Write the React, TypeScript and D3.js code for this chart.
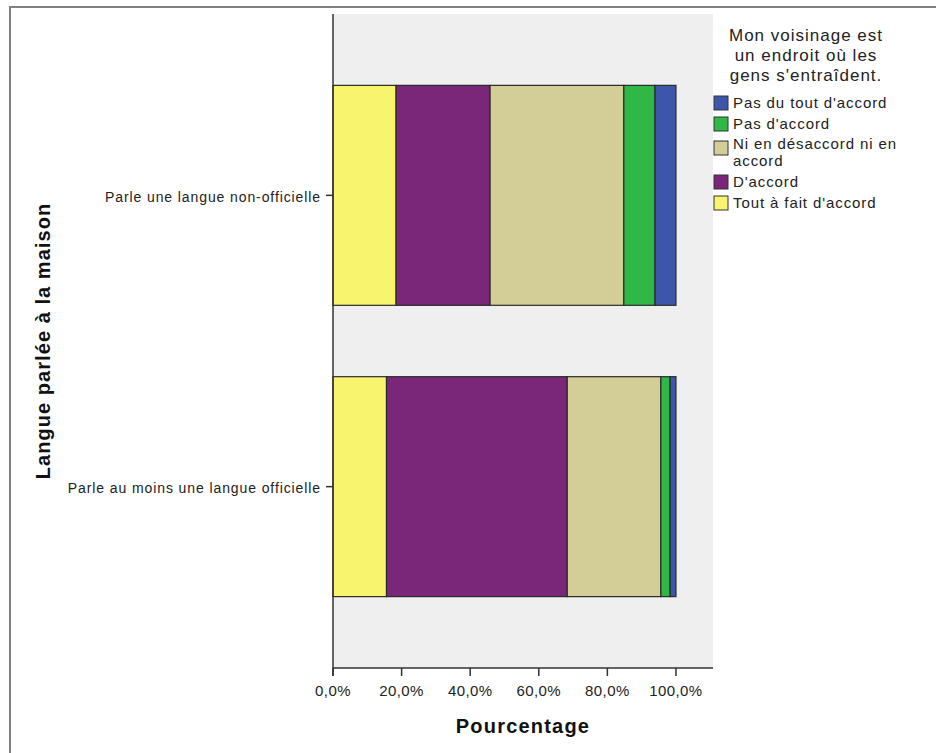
import React from "react";
import * as d3 from "d3";

const categories = ["Parle une langue non-officielle", "Parle au moins une langue officielle"];
const seriesKeys = ["Tout à fait d'accord", "D'accord", "Ni en désaccord ni en accord", "Pas d'accord", "Pas du tout d'accord"];
const toutAFait = [18.4, 15.6];
const dAccord = [27.4, 52.7];
const ni = [39.0, 27.3];
const pasDAccord = [9.1, 2.7];
const pasDuTout = [6.1, 1.7];
const seriesColors = ["#F9F46E", "#7B2779", "#D3CE97", "#2FB845", "#3D56AB"];
const xTicks = [0, 20, 40, 60, 80, 100];
const legendTitle = ["Mon voisinage est", "un endroit où les", "gens s'entraîdent."];
const legendOrder = [4, 3, 2, 1, 0];
const legendLabelLines: Record<number, string[]> = {
  4: ["Pas du tout d'accord"],
  3: ["Pas d'accord"],
  2: ["Ni en désaccord ni en", "accord"],
  1: ["D'accord"],
  0: ["Tout à fait d'accord"],
};

export default function App() {
  const W = 936, H = 753;
  const left = 333, right = 713, top = 14, bottom = 668;
  const x = d3.scaleLinear().domain([0, 110.8]).range([left, right]);
  const y = d3.scaleBand().domain(categories).range([top, bottom]).paddingInner(0.245).paddingOuter(0.245);
  const values = [toutAFait, dAccord, ni, pasDAccord, pasDuTout];
  const rows = categories.map((c, i) => {
    const o: any = { cat: c };
    seriesKeys.forEach((k, j) => (o[k] = values[j][i]));
    return o;
  });
  const stacked = d3.stack().keys(seriesKeys)(rows);
  const font = "'Liberation Sans', Arial, sans-serif";

  let ly = 96;
  const legendItems = legendOrder.map((si) => {
    const lines = legendLabelLines[si];
    const yy = ly;
    ly += lines.length > 1 ? 37 : 21;
    return { si, lines, yy };
  });

  return (
    <svg width={W} height={H} style={{ position: "absolute", left: 0, top: 0 }} fontFamily={font}>
      <rect x={0} y={0} width={W} height={H} fill="#fff" />
      <line x1={10} x2={10} y1={6} y2={H} stroke="#808080" strokeWidth={2} />
      <line x1={9} x2={W} y1={7} y2={7} stroke="#808080" strokeWidth={2} />
      <rect x={left} y={top} width={right - left} height={bottom - top} fill="#EFEFEF" />
      {stacked.map((s, j) =>
        s.map((d, i) => (
          <rect
            key={j + "-" + i}
            x={x(d[0])}
            y={y(categories[i])!}
            width={x(d[1]) - x(d[0])}
            height={y.bandwidth()}
            fill={seriesColors[j]}
            stroke="#2a2a2a"
            strokeWidth={1.2}
          />
        ))
      )}
      <line x1={left} x2={left} y1={top} y2={bottom + 8} stroke="#333" strokeWidth={1.5} />
      <line x1={left} x2={right} y1={bottom} y2={bottom} stroke="#333" strokeWidth={1.5} />
      {xTicks.map((t) => (
        <g key={t}>
          <line x1={x(t)} x2={x(t)} y1={bottom} y2={bottom + 8} stroke="#333" strokeWidth={1.5} />
          <text x={x(t)} y={bottom + 28} textAnchor="middle" fontSize={15} letterSpacing={0.4} fill="#222">
            {t.toFixed(1).replace(".", ",") + "%"}
          </text>
        </g>
      ))}
      {categories.map((c) => {
        const cy = y(c)! + y.bandwidth() / 2;
        return (
          <g key={c}>
            <line x1={left - 7} x2={left} y1={cy} y2={cy} stroke="#333" strokeWidth={1.5} />
            <text x={left - 12} y={cy + 6.5} textAnchor="end" fontSize={14} letterSpacing={0.9} fill="#222">
              {c}
            </text>
          </g>
        );
      })}
      <text x={(left + right) / 2} y={733} textAnchor="middle" fontSize={20} letterSpacing={1.2} fontWeight="bold" fill="#111">
        Pourcentage
      </text>
      <text
        transform={`translate(50, ${(top + bottom) / 2}) rotate(-90)`}
        textAnchor="middle"
        fontSize={20}
        letterSpacing={1.05}
        fontWeight="bold"
        fill="#111"
      >
        Langue parlée à la maison
      </text>
      {legendTitle.map((l, i) => (
        <text key={l} x={806} y={41 + i * 20} textAnchor="middle" fontSize={17} letterSpacing={1.0} fill="#222">
          {l}
        </text>
      ))}
      {legendItems.map(({ si, lines, yy }) => (
        <g key={si}>
          <rect x={714} y={yy + (lines.length > 1 ? 3 : 0)} width={14} height={14} fill={seriesColors[si]} stroke="#333" strokeWidth={1} />
          {lines.map((ln, k) => (
            <text key={k} x={733} y={yy + (lines.length > 1 ? 11 : 12) + k * 17} fontSize={15} letterSpacing={0.9} fill="#222">
              {ln}
            </text>
          ))}
        </g>
      ))}
    </svg>
  );
}
